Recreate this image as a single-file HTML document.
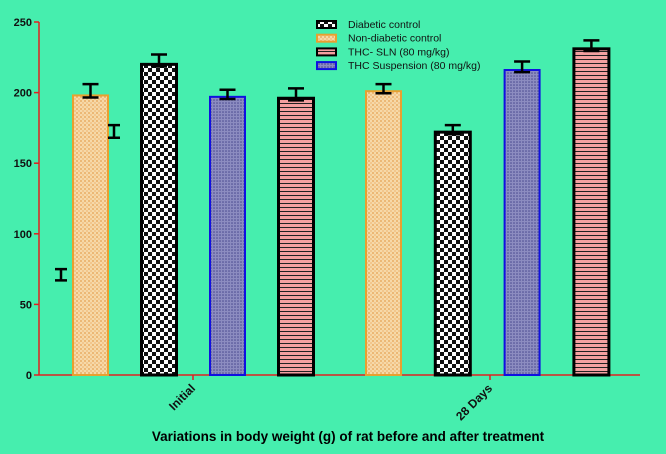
<!DOCTYPE html>
<html><head><meta charset="utf-8"><style>
body{margin:0;background:#46EEAE;}
svg{display:block;font-family:"Liberation Sans",sans-serif;}
</style></head><body>
<svg width="666" height="454" viewBox="0 0 666 454">
<defs>
<pattern id="pChk" width="8" height="8" patternUnits="userSpaceOnUse"><rect width="8" height="8" fill="#fff"/><rect width="4" height="4" fill="#111"/><rect x="4" y="4" width="4" height="4" fill="#111"/></pattern>
<pattern id="pOr" width="4" height="4" patternUnits="userSpaceOnUse"><rect width="4" height="4" fill="#f6d9a8"/><circle cx="1" cy="1" r="0.9" fill="#e6a050"/><circle cx="3" cy="3" r="0.9" fill="#f0b878"/></pattern>
<pattern id="pBl" width="3" height="3" patternUnits="userSpaceOnUse"><rect width="3" height="3" fill="#8c8cc0"/><circle cx="1" cy="1" r="0.8" fill="#4a4a90"/></pattern>
<pattern id="pPk" width="4" height="4" patternUnits="userSpaceOnUse"><rect width="4" height="4" fill="#f4a0a0"/><rect y="3" width="4" height="1" fill="#222"/></pattern>
</defs>
<g id="plot"></g>
<text x="348" y="441" text-anchor="middle" font-size="13.5" font-weight="bold" fill="#000">Variations in body weight (g) of rat before and after treatment</text>
</svg>
<script>
const categories=["Initial","28 Days"];
const seriesNames=["Non-diabetic control","Diabetic control","THC Suspension (80 mg/kg)","THC- SLN (80 mg/kg)"];
const valuesInitial=[198,220,197,196];
const values28=[201,172,216,231];
const errInitial=[8,7,5,7];
const err28=[5,5,6,6];
const yTicks=[0,50,100,150,200,250];
const fills=["url(#pOr)","url(#pChk)","url(#pBl)","url(#pPk)"];
const strokes=["#e8a030","#000","#1010e0","#000"];
const NS="http://www.w3.org/2000/svg";
const g=document.getElementById('plot');
const y=v=>375-v*353/250;
const groupStart=[73,366],barStep=[68.5,69.3],barW=35;
function mk(t,a,p){const e=document.createElementNS(NS,t);for(const k in a)e.setAttribute(k,a[k]);(p||g).appendChild(e);return e;}
let ax=mk('line',{x1:39,y1:375,x2:640,y2:375,stroke:'#e02020','stroke-width':1.5});


let ay=mk('line',{x1:39,y1:22,x2:39,y2:375,stroke:'#e02020','stroke-width':1.5});


yTicks.forEach(v=>{
 mk('line',{x1:34,x2:39,y1:y(v),y2:y(v),stroke:'#e02020','stroke-width':1.5});
 const t=mk('text',{x:32,y:y(v)+4,'text-anchor':'end','font-size':11,'font-weight':'bold',fill:'#111'});
 t.textContent=v;
 
 
});
const all=[valuesInitial,values28],errs=[errInitial,err28],ticksX=[193,490];
all.forEach((vals,gi)=>{
 mk('line',{x1:ticksX[gi],x2:ticksX[gi],y1:375,y2:380,stroke:'#e02020','stroke-width':1.5});
 const t=mk('text',{x:ticksX[gi]+3,y:389,'text-anchor':'end','font-size':12,'font-weight':'bold',fill:'#111',transform:`rotate(-45 ${ticksX[gi]+3} 389)`});
 t.textContent=categories[gi];
 
 
 vals.forEach((v,i)=>{
  const x=groupStart[gi]+i*barStep[gi];
  const r=mk('rect',{x:x,y:y(v),width:barW,height:375-y(v),fill:fills[i],stroke:strokes[i],'stroke-width':i==1||i==3?3:2});
  
  
  const cx=x+barW/2,e=errs[gi][i];
  const lo=y(v-1.5),hi=y(v+e);
  const eb=mk('path',{d:`M${cx} ${lo}V${hi}M${cx-8} ${hi}H${cx+8}M${cx-8} ${lo}H${cx+8}`,stroke:'#000','stroke-width':2.5,fill:'none'});
  
  
 });
});
[[61,67,75],[114,168,177]].forEach(s=>{
 const p=mk('path',{d:`M${s[0]-6} ${y(s[1])}H${s[0]+6}M${s[0]} ${y(s[1])}V${y(s[2])}M${s[0]-6} ${y(s[2])}H${s[0]+6}`,stroke:'#000','stroke-width':2.5,fill:'none'});
 
 
});
const legOrder=[1,0,3,2],legLabels=["Diabetic control","Non-diabetic control","THC- SLN (80 mg/kg)","THC Suspension (80 mg/kg)"];
legOrder.forEach((si,k)=>{
 const yy=21+k*13.7;
 const sw=mk('rect',{x:317,y:yy,width:19,height:7,fill:fills[si],stroke:strokes[si],'stroke-width':2});
 
 
 const t=mk('text',{x:348,y:yy+7,'font-size':10.5,fill:'#111'});
 t.textContent=legLabels[k];
 
 
});
</script>
</body></html>
